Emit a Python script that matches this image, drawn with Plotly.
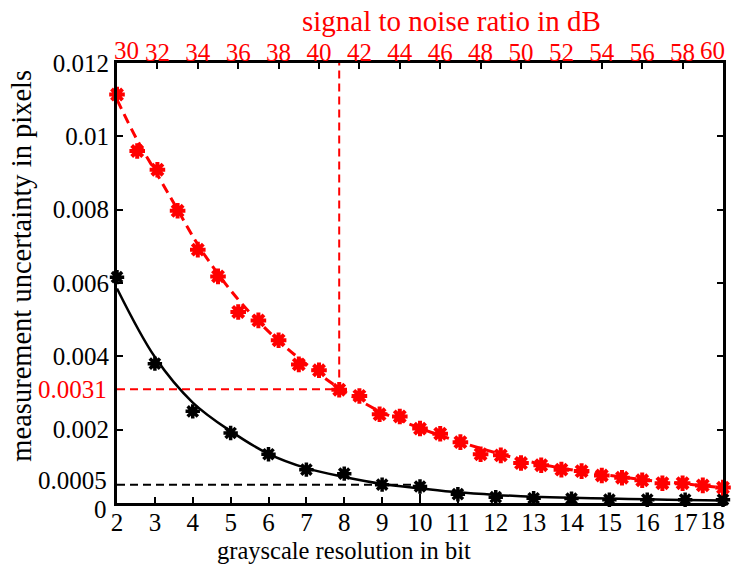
import plotly.graph_objects as go

# Grayscale resolution (bottom axis) and measured uncertainty
bits = list(range(2, 19))
black_stars = [0.00616, 0.00380, 0.00250, 0.00191, 0.00133, 0.00091, 0.00080,
               0.00050, 0.00045, 0.00024, 0.00016, 0.00013, 0.00012, 0.00009,
               0.00009, 0.00009, 0.00009]
black_fit = [0.00585, 0.00398, 0.00274, 0.00196, 0.00134, 0.00095, 0.00071,
             0.00052, 0.00040, 0.00029, 0.00022, 0.00017, 0.00014, 0.00012,
             0.00010, 0.00008, 0.00007]

# Signal to noise ratio (top axis) and measured uncertainty
snr_db = list(range(30, 61))
red_stars = [0.01114, 0.00960, 0.00909, 0.00797, 0.00691, 0.00618, 0.00521,
             0.00498, 0.00444, 0.00378, 0.00362, 0.00309, 0.00292, 0.00242,
             0.00236, 0.00203, 0.00189, 0.00166, 0.00133, 0.00130, 0.00109,
             0.00103, 0.00091, 0.00087, 0.00075, 0.00069, 0.00062, 0.00054,
             0.00054, 0.00048, 0.00042]
red_fit = [0.01100, 0.00990, 0.00895, 0.00800, 0.00705, 0.00625, 0.00555,
           0.00495, 0.00442, 0.00395, 0.00352, 0.00313, 0.00280, 0.00250,
           0.00226, 0.00204, 0.00184, 0.00166, 0.00149, 0.00133, 0.00119,
           0.00106, 0.00095, 0.00086, 0.00078, 0.00071, 0.00064, 0.00058,
           0.00053, 0.00047, 0.00042]

# Reference markers
red_ref_snr = 41
red_ref_val = 0.0031
black_ref_bit = 10
black_ref_val = 0.0005

y_ticks = [0.002, 0.004, 0.006, 0.008, 0.01, 0.012]
y_ticktext = ["0.002", "0.004", "0.006", "0.008", "0.01", "0.012"]
x_ticks = bits
x_ticktext = [str(b) for b in bits[:-1]] + [""]
snr_ticks = list(range(30, 61, 2))
snr_ticktext = [""] + [str(s) for s in snr_ticks[1:-1]] + [""]

FONT = "Liberation Serif"
RED = "#ff0000"
TICK_SIZE = 25

fig = go.Figure()

# reference lines
fig.add_trace(go.Scatter(
    x=[snr_db[0], red_ref_snr, red_ref_snr], y=[red_ref_val, red_ref_val, 0.012],
    xaxis="x2", yaxis="y", mode="lines",
    line=dict(color=RED, width=2, dash="8px,5px"), hoverinfo="skip"))
fig.add_trace(go.Scatter(
    x=[bits[0], black_ref_bit, black_ref_bit], y=[black_ref_val, black_ref_val, 0],
    xaxis="x", yaxis="y", mode="lines",
    line=dict(color="black", width=2, dash="8px,5px"), hoverinfo="skip"))

# fitted curves
fig.add_trace(go.Scatter(
    x=bits, y=black_fit, xaxis="x", yaxis="y", mode="lines",
    line=dict(color="black", width=2.5, shape="spline")))
fig.add_trace(go.Scatter(
    x=snr_db, y=red_fit, xaxis="x2", yaxis="y", mode="lines",
    line=dict(color=RED, width=3, dash="10px,6px", shape="spline")))

# measured points
fig.add_trace(go.Scatter(
    x=bits, y=black_stars, xaxis="x", yaxis="y", mode="markers", cliponaxis=False,
    marker=dict(symbol="asterisk-open", size=12, color="black",
                line=dict(color="black", width=3.5))))
fig.add_trace(go.Scatter(
    x=snr_db, y=red_stars, xaxis="x2", yaxis="y", mode="markers", cliponaxis=False,
    marker=dict(symbol="asterisk-open", size=13, color=RED,
                line=dict(color=RED, width=4))))

axis_common = dict(ticks="inside", ticklen=6, tickwidth=2, tickcolor="black",
                   showline=True, linecolor="black", linewidth=3,
                   showgrid=False, zeroline=False)

fig.update_layout(
    width=731, height=565,
    margin=dict(l=117, r=5, t=63, b=62),
    paper_bgcolor="white", plot_bgcolor="white",
    showlegend=False,
    font=dict(family=FONT, size=TICK_SIZE, color="black"),
    xaxis=dict(range=[2, 18], tickvals=x_ticks, ticktext=x_ticktext,
               tickfont=dict(size=TICK_SIZE), ticklabelstandoff=-5,
               **axis_common),
    xaxis2=dict(range=[30, 60], overlaying="x", side="top", anchor="y",
                tickvals=snr_ticks, ticktext=snr_ticktext,
                tickfont=dict(size=TICK_SIZE, color=RED), ticklabelstandoff=-11,
                **axis_common),
    yaxis=dict(range=[0, 0.012], tickvals=y_ticks, ticktext=y_ticktext,
               tickfont=dict(size=TICK_SIZE), mirror="ticks", **axis_common),
)

def label(text, x, y, color="black", size=TICK_SIZE, **kw):
    opts = dict(xanchor="center", yanchor="middle")
    opts.update(kw)
    fig.add_annotation(x=x, y=y, xref="paper", yref="paper", text=text,
                       showarrow=False, font=dict(family=FONT, size=size, color=color),
                       **opts)

# axis titles
label("grayscale resolution in bit", 0.374, -0.109, size=24.5)
label("signal to noise ratio in dB", 0.552, 1.096, color=RED, size=29)
label("measurement uncertainty in pixels", -0.158, 0.54, size=28.5, textangle=-90)

# end tick labels kept clear of neighbouring text and inside the page
label(str(snr_ticks[0]), 0, 1, color=RED, xanchor="left", yanchor="bottom",
      xshift=-5, yshift=-3)
label(str(bits[-1]), 1, 0, xanchor="right", yanchor="top", xshift=4, yshift=-2)
label(str(snr_ticks[-1]), 1, 1, color=RED, xanchor="right", yanchor="bottom",
      xshift=4, yshift=-3)

# zero and reference value labels on the y axis
fig.add_annotation(x=0, xref="paper", y=0, yref="y", xanchor="right", xshift=-8,
                   yshift=-6, text="0", showarrow=False,
                   font=dict(family=FONT, size=TICK_SIZE, color="black"))
fig.add_annotation(x=0, xref="paper", y=red_ref_val, yref="y", xanchor="right",
                   xshift=-8, text=str(red_ref_val), showarrow=False,
                   font=dict(family=FONT, size=TICK_SIZE, color=RED))
fig.add_annotation(x=0, xref="paper", y=black_ref_val, yref="y", xanchor="right",
                   xshift=-8, yshift=4, text=str(black_ref_val), showarrow=False,
                   font=dict(family=FONT, size=TICK_SIZE, color="black"))

fig.write_html("out.html")
